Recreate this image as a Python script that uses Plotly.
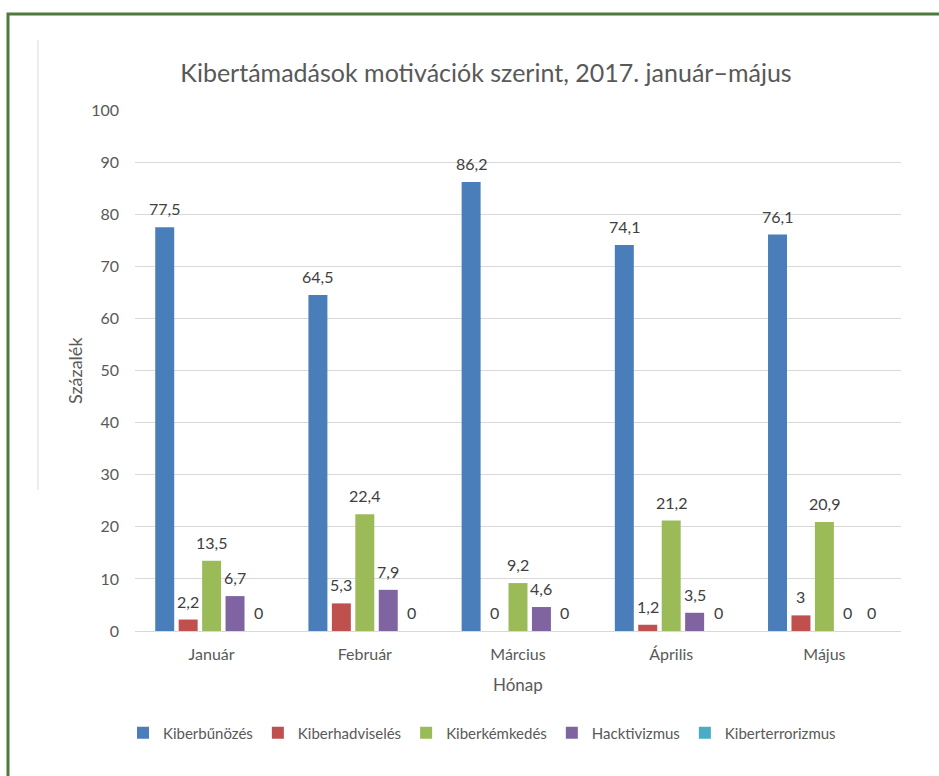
import plotly.graph_objects as go

# Monthly share of cyber attacks by motivation (percent)
months = ["Január", "Február", "Március", "Április", "Május"]
series_names = ["Kiberbűnözés", "Kiberhadviselés", "Kiberkémkedés", "Hacktivizmus", "Kiberterrorizmus"]
kiberbunozes = [77.5, 64.5, 86.2, 74.1, 76.1]
kiberhadviseles = [2.2, 5.3, 0, 1.2, 3]
kiberkemkedes = [13.5, 22.4, 9.2, 21.2, 20.9]
hacktivizmus = [6.7, 7.9, 4.6, 3.5, 0]
kiberterrorizmus = [0, 0, 0, 0, 0]
y_ticks = [0, 10, 20, 30, 40, 50, 60, 70, 80, 90, 100]

series_values = [kiberbunozes, kiberhadviseles, kiberkemkedes, hacktivizmus, kiberterrorizmus]
colors = ["#4a7ebb", "#c0504d", "#9bbb59", "#8064a2", "#4bacc6"]

FONT = "Lato, 'Open Sans', sans-serif"
GREY = "#595959"

W, H = 939, 776
L, R, T, B = 135, 38, 110, 145
PW = W - L - R
PH = H - T - B
BARGAP = 0.235
BARGROUPGAP = 0.19


def px(x):
    return (x - L) / PW


def py(y):
    return (H - B - y) / PH


def fmt(v):
    return ("%g" % v).replace(".", ",")


fig = go.Figure()
for name, vals, col in zip(series_names, series_values, colors):
    fig.add_trace(go.Bar(
        name=name,
        x=months,
        y=vals,
        marker=dict(color=col, line=dict(width=0)),
    ))

# value labels above each bar, offset to the bar's slot within its group
n = len(series_names)
slot = PW / len(months) * (1 - BARGAP) / n
annotations = []
for i, vals in enumerate(series_values):
    for m, v in zip(months, vals):
        annotations.append(dict(
            x=m, y=v, xref="x", yref="y",
            text=fmt(v), showarrow=False,
            xshift=(i - (n - 1) / 2) * slot,
            yanchor="bottom", yshift=7,
            font=dict(family=FONT, size=16, color="#404040"),
        ))

annotations += [
    dict(text="Százalék", xref="paper", yref="paper", x=px(75), y=py(371),
         showarrow=False, textangle=-90,
         font=dict(family=FONT, size=18, color=GREY),
         xanchor="center", yanchor="middle"),
    dict(text="Hónap", xref="paper", yref="paper", x=px(518), y=py(684),
         showarrow=False,
         font=dict(family=FONT, size=17, color=GREY),
         xanchor="center", yanchor="middle"),
]

fig.update_layout(
    width=W,
    height=H,
    margin=dict(l=L, r=R, t=T, b=B),
    paper_bgcolor="white",
    plot_bgcolor="white",
    barmode="group",
    bargap=BARGAP,
    bargroupgap=BARGROUPGAP,
    font=dict(family=FONT, color=GREY, size=14),
    title=dict(
        text="Kibertámadások motivációk szerint, 2017. január–május",
        font=dict(family=FONT, size=25, color=GREY),
        xref="paper", x=px(486), xanchor="center",
        yref="container", y=1 - 73 / H, yanchor="middle",
    ),
    xaxis=dict(
        showgrid=False,
        showline=True,
        linecolor="#d9d9d9",
        linewidth=1,
        ticks="",
        ticklabelstandoff=9,
        tickfont=dict(family=FONT, size=16, color=GREY),
    ),
    yaxis=dict(
        range=[0, 100],
        tickvals=y_ticks,
        showgrid=True,
        gridcolor="#d9d9d9",
        gridwidth=1,
        zeroline=False,
        showline=False,
        ticks="",
        ticklabelstandoff=15,
        tickfont=dict(family=FONT, size=16, color=GREY),
    ),
    legend=dict(
        orientation="h",
        x=px(482), xanchor="center",
        y=py(733), yanchor="middle",
        font=dict(family=FONT, size=15, color=GREY),
        traceorder="normal",
    ),
    showlegend=True,
    annotations=annotations,
    shapes=[
        # green frame (top and left edges; continues past the page)
        dict(type="rect", xref="paper", yref="paper",
             x0=px(8), y0=py(H + 20), x1=px(W + 20), y1=py(14),
             line=dict(color="#4f7a3f", width=3), fillcolor="rgba(0,0,0,0)",
             layer="below"),
        # faint vertical rule on the left
        dict(type="line", xref="paper", yref="paper",
             x0=px(38), x1=px(38), y0=py(40), y1=py(490),
             line=dict(color="#ececec", width=2), layer="below"),
    ],
)

fig.write_html("out.html")
